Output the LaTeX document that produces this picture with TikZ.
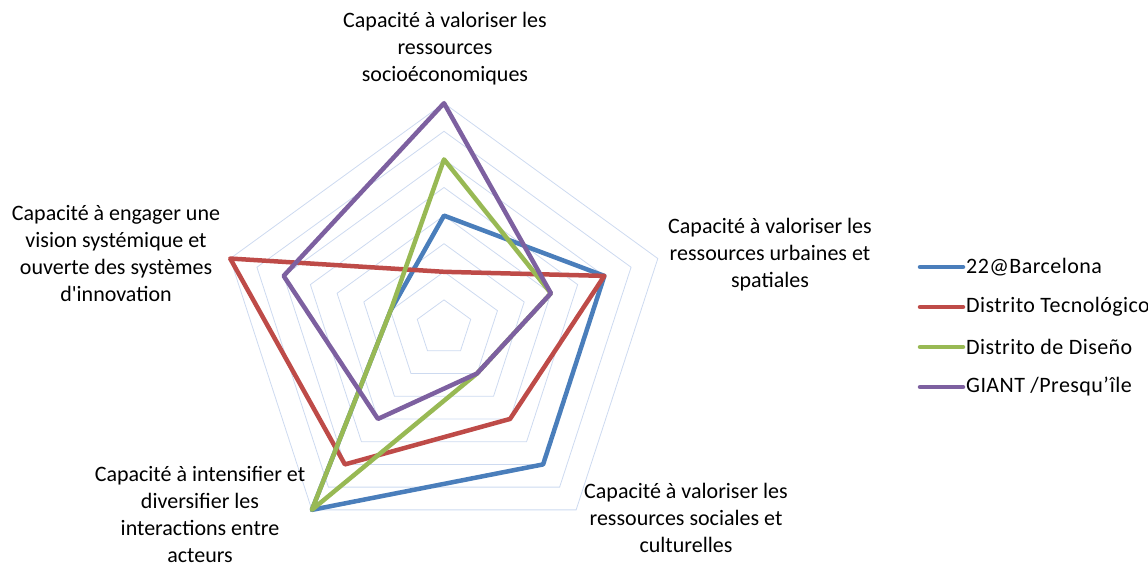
\documentclass[tikz,border=0pt]{standalone}
\usepackage{fontspec}
\setmainfont[Ligatures=TeXOff]{Carlito}
\definecolor{cblue}{RGB}{74,126,187}
\definecolor{cred}{RGB}{190,75,72}
\definecolor{cgreen}{RGB}{152,185,84}
\definecolor{cpurple}{RGB}{125,96,160}
\definecolor{cgrid}{RGB}{205,218,240}
\tikzset{
  gridline/.style={draw=cgrid, line width=0.8pt},
  series/.style={line width=4.5pt, line join=round},
  lab/.style={align=center, font=\fontsize{22}{27}\selectfont, inner sep=0pt},
  legtext/.style={anchor=west, font=\fontsize{22}{26}\selectfont\addfontfeature{LetterSpace=2}, inner sep=0pt},
}
\begin{document}
\begin{tikzpicture}[x=1pt,y=-1pt]
\useasboundingbox (0,0) rectangle (1148,565);
\begin{scope}[shift={(444,328)}]
  \foreach \k in {1,...,8}
    \draw[gridline] (-90:{\k*28.1}) -- (-18:{\k*28.1}) -- (54:{\k*28.1}) -- (126:{\k*28.1}) -- (198:{\k*28.1}) -- cycle;
  \draw[series, cblue]   (-90:{4*28.1}) -- (-18:{6*28.1}) -- (54:{6*28.1}) -- (126:{8*28.1}) -- (198:{2*28.1}) -- cycle;
  \draw[series, cred]    (-90:{2*28.1}) -- (-18:{6*28.1}) -- (54:{4*28.1}) -- (126:{6*28.1}) -- (198:{8*28.1}) -- cycle;
  \draw[series, cgreen]  (-90:{6*28.1}) -- (-18:{4*28.1}) -- (54:{2*28.1}) -- (126:{8*28.1}) -- (198:{2*28.1}) -- cycle;
  \draw[series, cpurple] (-90:{8*28.1}) -- (-18:{4*28.1}) -- (54:{2*28.1}) -- (126:{4*28.1}) -- (198:{6*28.1}) -- cycle;
\end{scope}
\node[lab] (a1) at (445,49) {Capacité à valoriser les\\ressources\\socioéconomiques};
\node[lab] (a2) at (770,255) {Capacité à valoriser les\\ressources urbaines et\\spatiales};
\node[lab] (a3) at (686,518) {Capacité à valoriser les\\ressources sociales et\\culturelles};
\node[lab] (a4) at (200,514) {Capacité à intensifier et\\diversifier les\\interactions entre\\acteurs};
\node[lab] (a5) at (116,254) {Capacité à engager une\\vision systémique et\\ouverte des systèmes\\d'innovation};
\foreach \c/\t/\y [count=\i] in {cblue/{22@Barcelona}/267, cred/{Distrito Tecnológico}/307, cgreen/{Distrito de Diseño}/347, cpurple/{GIANT /Presqu’île}/387} {
  \coordinate (ls\i) at (920,\y);
  \coordinate (le\i) at (963,\y);
  \draw[series, \c, line cap=round] (ls\i) -- (le\i);
  \node[legtext] (lt\i) at (966,\y) {\t};
}
\end{tikzpicture}
\end{document}
